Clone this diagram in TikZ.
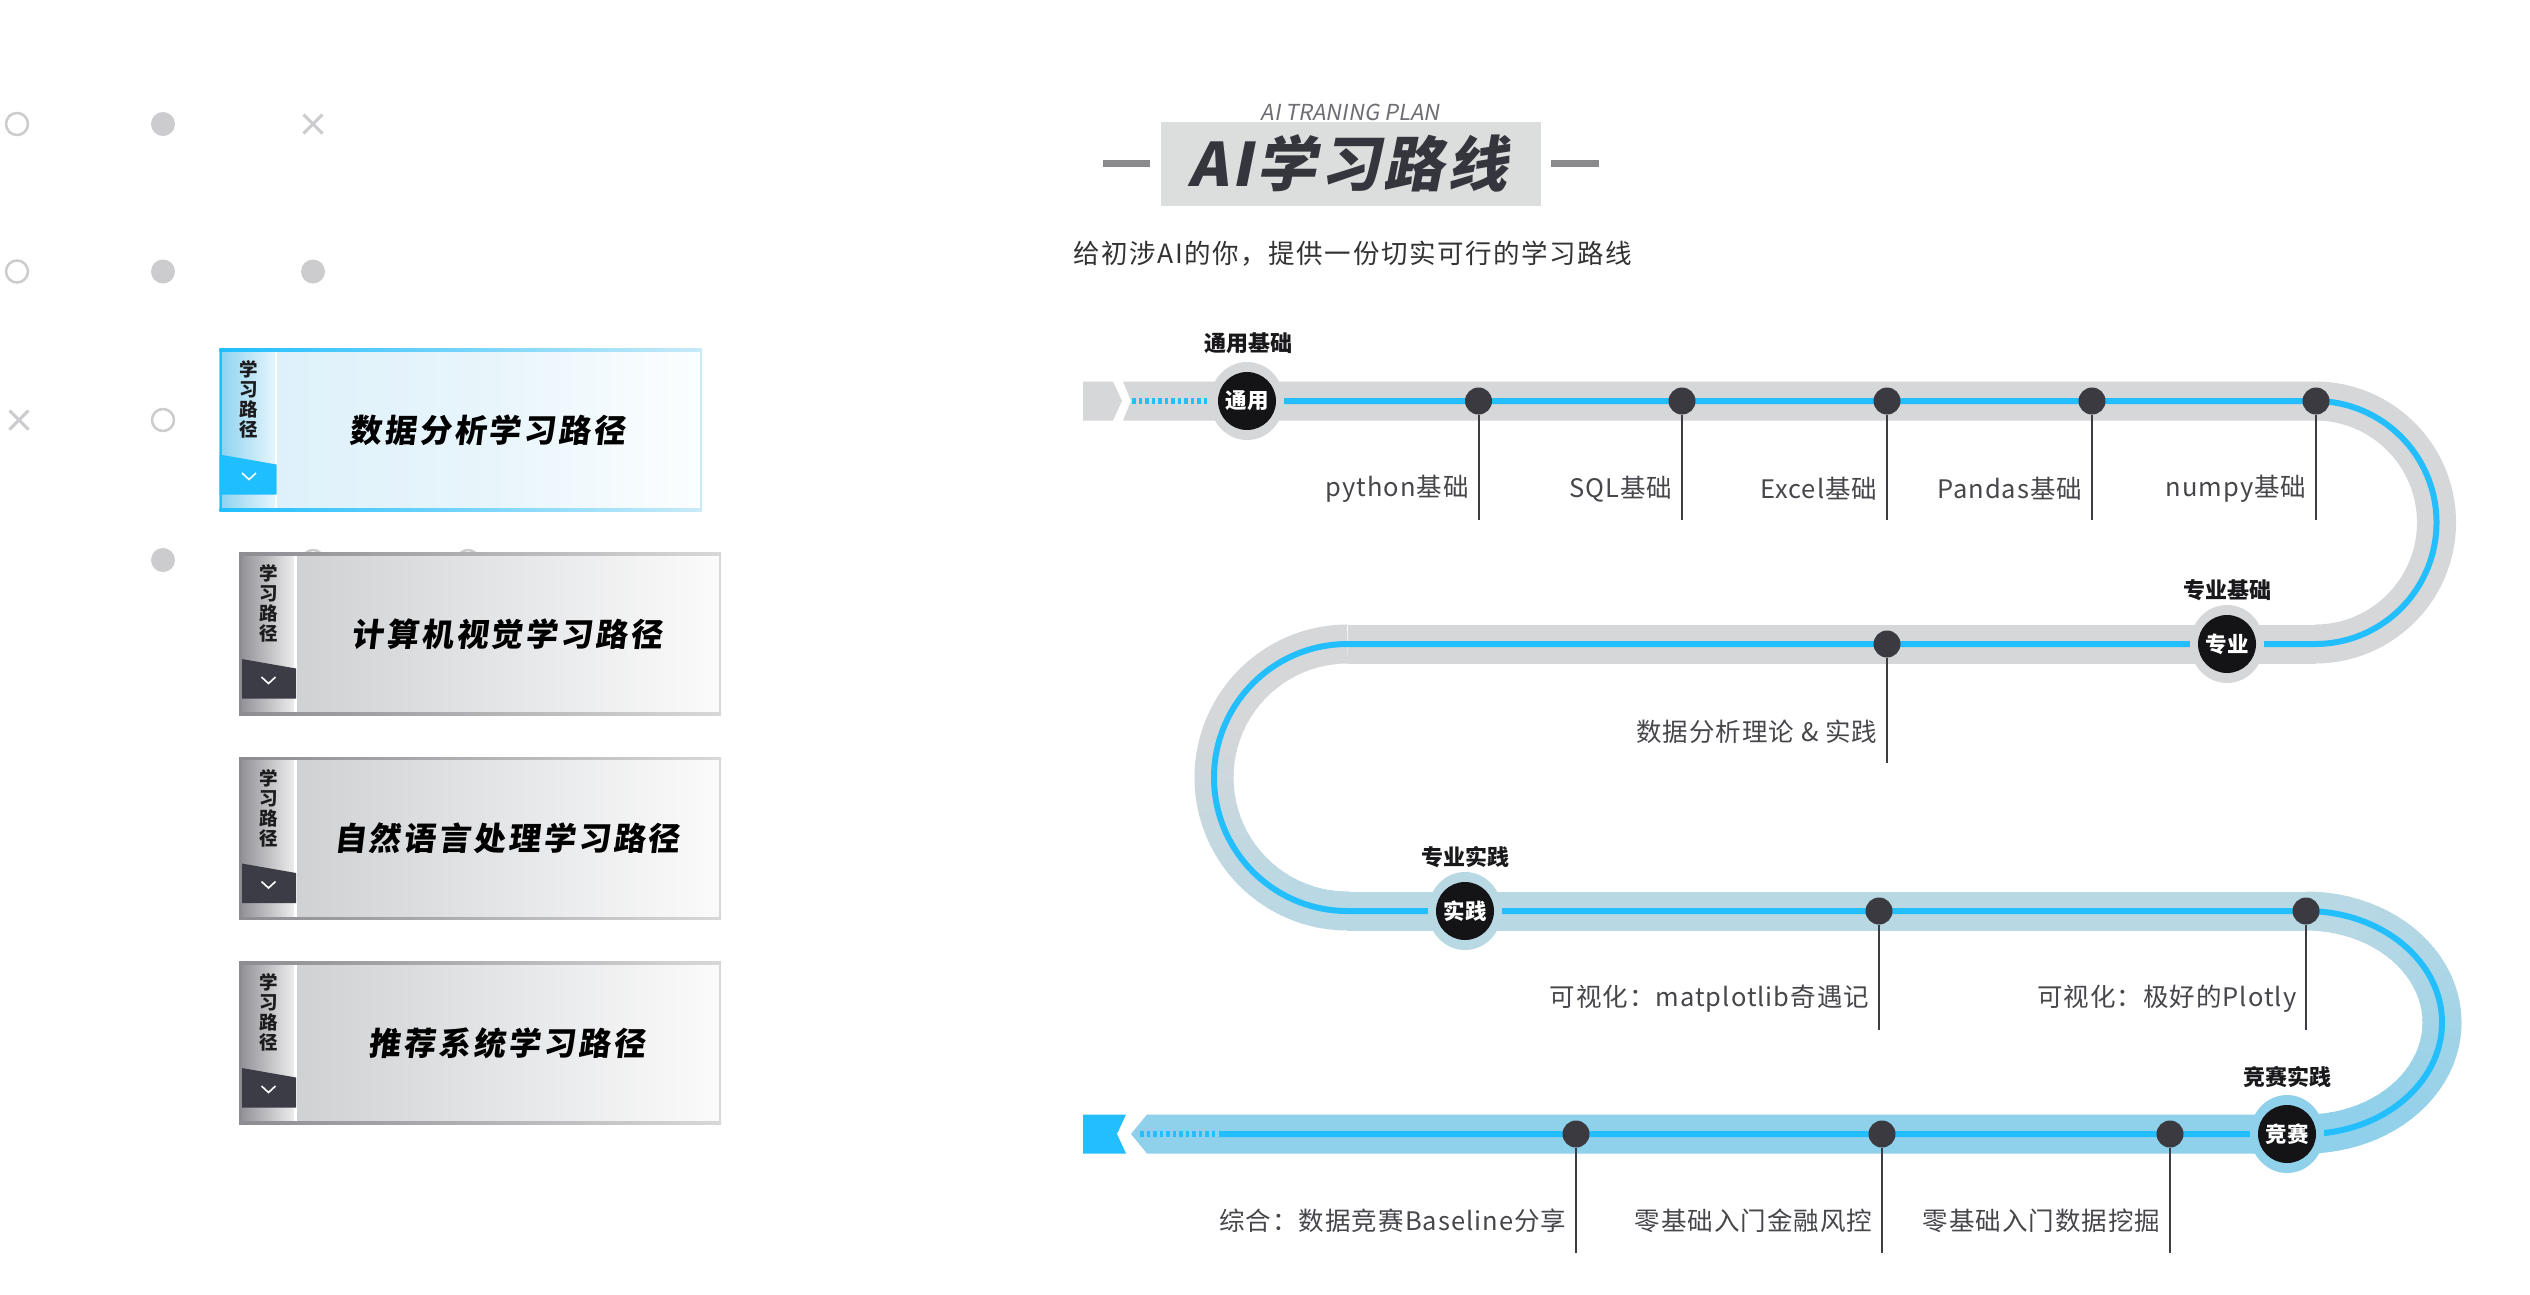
\documentclass[tikz,border=0pt]{standalone}
\usepackage{fontspec}
\setmainfont{Noto Sans CJK SC}
\newfontfamily\boxfont{Noto Sans CJK SC}[FakeSlant=0.12,LetterSpace=9]
\newfontfamily\titlefont{Noto Sans CJK SC}[FakeSlant=0.2,LetterSpace=6]
\newfontfamily\planfont{Noto Sans CJK SC}[FakeSlant=0.18]
\newfontfamily\lblfont{Noto Sans CJK SC}[LetterSpace=4]
\newfontfamily\subfont{Noto Sans CJK SC}[LetterSpace=6]
\usetikzlibrary{shapes.geometric}

\definecolor{trackblue}{RGB}{35,190,254}
\definecolor{bandgray}{RGB}{214,215,217}
\definecolor{bandmid}{RGB}{184,216,228}
\definecolor{bandlow}{RGB}{143,208,234}
\definecolor{dotdark}{RGB}{58,58,64}
\definecolor{labelgray}{RGB}{70,70,75}
\definecolor{leadercol}{RGB}{60,60,66}
\definecolor{decogray}{RGB}{204,204,206}
\definecolor{nodeblack}{RGB}{20,20,22}
\definecolor{milelblcol}{RGB}{25,25,28}
\definecolor{titledark}{RGB}{53,53,61}
\definecolor{titlebg}{RGB}{220,221,221}
\definecolor{plangray}{RGB}{110,110,116}
\definecolor{dashgray}{RGB}{138,138,140}
\definecolor{subcol}{RGB}{51,51,51}
\definecolor{vtextcol}{RGB}{28,28,30}
% blue box
\definecolor{bxAsL}{RGB}{140,210,240}
\definecolor{bxAsR}{RGB}{232,246,252}
\definecolor{bxAcL}{RGB}{222,241,250}
\definecolor{bxAcM}{RGB}{232,245,251}
\definecolor{bxAcR}{RGB}{252,254,255}
\definecolor{bxAbL}{RGB}{31,190,255}
\definecolor{bxAbR}{RGB}{200,234,248}
\definecolor{bxAtab}{RGB}{31,190,255}
% gray boxes
\definecolor{bxBsL}{RGB}{142,142,148}
\definecolor{bxBsR}{RGB}{240,240,241}
\definecolor{bxBcL}{RGB}{208,209,211}
\definecolor{bxBcM}{RGB}{229,230,232}
\definecolor{bxBcR}{RGB}{251,251,251}
\definecolor{bxBbL}{RGB}{140,140,146}
\definecolor{bxBbR}{RGB}{216,216,216}
\definecolor{bxBtab}{RGB}{59,60,70}

\tikzset{
  halo/.style={ellipse, minimum width=74pt, minimum height=78pt, inner sep=0pt},
  mile/.style={circle, fill=nodeblack, minimum size=58pt, inner sep=0pt, text=white,
    font=\fontsize{21.5}{21.5}\selectfont\bfseries},
  milelbl/.style={font=\fontsize{22}{22}\selectfont\bfseries, text=milelblcol, inner sep=0pt},
  dot/.style={circle, fill=dotdark, minimum size=27pt, inner sep=0pt},
  leader/.style={draw=leadercol, line width=2pt},
  lbl/.style={font=\lblfont\fontsize{25.5}{26}\selectfont, text=labelgray, inner sep=0pt, anchor=east},
  boxtitle/.style={font=\boxfont\bfseries\fontsize{32}{32}\selectfont, text=black, inner sep=0pt},
  vtext/.style={font=\bfseries\fontsize{18.5}{20}\selectfont, text=vtextcol, inner sep=0pt, align=center},
  band/.style={line width=39pt},
  opendeco/.style={draw=decogray, line width=2.5pt},
  filldeco/.style={fill=decogray},
  crossdeco/.style={draw=decogray, line width=3pt},
}

\newcommand{\lpbox}[5]{%
  \begin{scope}[shift={(#1,-#2)}]
    \shade[left color=#3cL, right color=#3cR, middle color=#3cM] (57,0) rectangle (482,-162.5);
    \shade[left color=#3sL, right color=#3sR] (0,0) rectangle (57,-162.5);
    \fill[white] (55,0) rectangle (57.5,-162.5);
    \fill[#3tab] (0,-106) -- (57,-116) -- (57,-146) -- (0,-146) -- cycle;
    \draw[white, line width=1.6pt] (22.5,-124.5) -- (29.5,-131) -- (36.5,-124.5);
    \shade[left color=#3bL, right color=#3bR] (0,0) rectangle (482,-2.5);
    \shade[left color=#3bL, right color=#3bR] (0,-160) rectangle (482,-162.5);
    \fill[#3bL] (0,0) rectangle (2.5,-162.5);
    \fill[#3bR] (480,0) rectangle (482,-162.5);
    \node[vtext] (#5v) at (29.5,-51) {学\\习\\路\\径};
    \node[boxtitle] (#5) at (268,-81.5) {#4};
  \end{scope}}

\begin{document}
\begin{tikzpicture}[x=1pt,y=1pt]
\useasboundingbox (0,0) rectangle (2530,-1294);
\fill[white] (0,0) rectangle (2530,-1294);

% ---------- left decorations ----------
\draw[opendeco] (17,-124) circle[radius=11];
\fill[filldeco] (163,-124) circle[radius=12];
\draw[crossdeco] (303.5,-114.5) -- (322.5,-133.5) (303.5,-133.5) -- (322.5,-114.5);
\draw[opendeco] (17,-271.5) circle[radius=11];
\fill[filldeco] (163,-271.5) circle[radius=12];
\fill[filldeco] (313,-271.5) circle[radius=12];
\draw[crossdeco] (9.5,-410.5) -- (28.5,-429.5) (9.5,-429.5) -- (28.5,-410.5);
\draw[opendeco] (163,-420) circle[radius=11];
\fill[filldeco] (163,-560) circle[radius=12];
\draw[opendeco] (313,-561) circle[radius=11];
\draw[opendeco] (468,-561) circle[radius=11];

% ---------- left boxes ----------
\lpbox{219.5}{348.5}{bxA}{数据分析学习路径}{b1}
\lpbox{239}{552.5}{bxB}{计算机视觉学习路径}{b2}
\lpbox{239}{757}{bxB}{自然语言处理学习路径}{b3}
\lpbox{239}{961.5}{bxB}{推荐系统学习路径}{b4}

% ---------- title ----------
\fill[titlebg] (1160.7,-121.7) rectangle (1541,-206);
\fill[dashgray] (1102.7,-160) rectangle (1150.4,-167);
\fill[dashgray] (1551,-160) rectangle (1599,-167);
\node[font=\planfont\fontsize{22}{22}\selectfont, text=plangray, inner sep=0pt] (plan) at (1350,-112.5) {AI TRANING PLAN};
\node[font=\titlefont\bfseries\fontsize{60}{60}\selectfont, text=titledark, inner sep=0pt] (title) at (1348,-163.5) {AI学习路线};
\node[font=\subfont\fontsize{26.5}{26.5}\selectfont, text=subcol, inner sep=0pt, anchor=west] (sub) at (1073,-253.5) {给初涉AI的你，提供一份切实可行的学习路线};

% ---------- track band ----------
\fill[bandgray] (1083,-381.5) -- (1113,-381.5) -- (1122,-401) -- (1113,-420.5) -- (1083,-420.5) -- cycle;
\fill[bandgray] (1123,-381.5) -- (2315,-381.5) -- (2315,-420.5) -- (1123,-420.5) -- (1131,-401) -- cycle;
\draw[band, bandgray] (2315,-401) arc[start angle=90, end angle=-90, radius=121.5];
\draw[band, bandgray] (2315.5,-644) -- (1347.5,-644);
\draw[band, bandmid] (1347,-911) -- (2306.5,-911);
\fill[bandlow] (2306.5,-1114.5) -- (1147,-1114.5) -- (1131,-1134) -- (1147,-1153.5) -- (2306.5,-1153.5) -- cycle;
\fill[trackblue] (1083,-1114.5) -- (1126,-1114.5) -- (1117,-1134) -- (1126,-1153.5) -- (1083,-1153.5) -- cycle;
\foreach \a in {90,94,...,266}{
  \pgfmathsetmacro\ea{\a+4.8}
  \pgfmathsetmacro\yy{777.5-133.5*sin(\a+2)}
  \pgfmathsetmacro\ff{max(0,min(100,(\yy-720)/1.91))}
  \draw[band, color=bandmid!\ff!bandgray] ({1347.5+133.5*cos(\a)},{-777.5+133.5*sin(\a)}) arc[start angle=\a, end angle=\ea, radius=133.5];
}
\foreach \a in {90,86,...,-86}{
  \pgfmathsetmacro\ea{\a-4.8}
  \pgfmathsetmacro\yy{1022.5-111.5*sin(\a-2)}
  \pgfmathsetmacro\ff{max(0,min(100,(\yy-911)/2.23))}
  \draw[band, color=bandlow!\ff!bandmid] ({2306+136*cos(\a)},{-1022.5+111.5*sin(\a)}) arc[start angle=\a, end angle=\ea, x radius=136, y radius=111.5];
}

% ---------- blue line ----------
\draw[trackblue, line width=6pt] (1247,-401) -- (2315,-401)
  arc[start angle=90, end angle=-90, radius=121.5] -- (1347.5,-644)
  arc[start angle=90, end angle=270, radius=133.5] -- (2306,-911)
  arc[start angle=90, end angle=-90, x radius=136, y radius=111.5] -- (1219,-1134);
\draw[trackblue, line width=6pt, dash pattern=on 3.5pt off 3pt] (1132,-401) -- (1208,-401);
\draw[trackblue, line width=6pt, dash pattern=on 3.5pt off 3pt] (1140,-1134) -- (1217,-1134);

% ---------- milestones ----------
\node[halo, fill=bandgray] (h1) at (1247,-401) {};
\node[mile] (m1) at (1247,-401) {通用};
\node[milelbl] (ml1) at (1248,-343) {通用基础};
\node[halo, fill=bandgray] (h2) at (2227,-644) {};
\node[mile] (m2) at (2227,-644) {专业};
\node[milelbl] (ml2) at (2227,-590) {专业基础};
\node[halo, fill=bandmid] (h3) at (1465,-911) {};
\node[mile] (m3) at (1465,-911) {实践};
\node[milelbl] (ml3) at (1465,-857) {专业实践};
\node[halo, fill=bandlow] (h4) at (2287,-1134) {};
\node[mile] (m4) at (2287,-1134) {竞赛};
\node[milelbl] (ml4) at (2287,-1077) {竞赛实践};

% ---------- stations ----------
\node[dot] (d1) at (1478.5,-401) {};
\node[dot] (d2) at (1682,-401) {};
\node[dot] (d3) at (1887,-401) {};
\node[dot] (d4) at (2092,-401) {};
\node[dot] (d5) at (2316,-401) {};
\node[dot] (d6) at (1887,-644) {};
\node[dot] (d7) at (1879,-911) {};
\node[dot] (d8) at (2306,-911) {};
\node[dot] (d9) at (1576,-1134) {};
\node[dot] (d10) at (1882,-1134) {};
\node[dot] (d11) at (2170,-1134) {};

\coordinate (e1) at (1478.5,-520);
\coordinate (e2) at (1682,-520);
\coordinate (e3) at (1887,-520);
\coordinate (e4) at (2092,-520);
\coordinate (e5) at (2316,-520);
\coordinate (e6) at (1887,-763);
\coordinate (e7) at (1879,-1030);
\coordinate (e8) at (2306,-1030);
\coordinate (e9) at (1576,-1253);
\coordinate (e10) at (1882,-1253);
\coordinate (e11) at (2170,-1253);
\foreach \i in {1,...,11}{ \draw[leader] (d\i.south) -- (e\i); }

\node[lbl] (t1) at (1469,-489) {python基础};
\node[lbl] (t2) at (1672.5,-489) {SQL基础};
\node[lbl] (t3) at (1877.5,-489) {Excel基础};
\node[lbl] (t4) at (2082.5,-489) {Pandas基础};
\node[lbl] (t5) at (2306.5,-489) {numpy基础};
\node[lbl] (t6) at (1877.5,-732) {数据分析理论 \& 实践};
\node[lbl] (t7) at (1869.5,-999) {可视化：matplotlib奇遇记};
\node[lbl] (t8) at (2296.5,-999) {可视化：极好的Plotly};
\node[lbl] (t9) at (1566.5,-1221) {综合：数据竞赛Baseline分享};
\node[lbl] (t10) at (1872.5,-1221) {零基础入门金融风控};
\node[lbl] (t11) at (2160.5,-1221) {零基础入门数据挖掘};
\end{tikzpicture}
\end{document}
